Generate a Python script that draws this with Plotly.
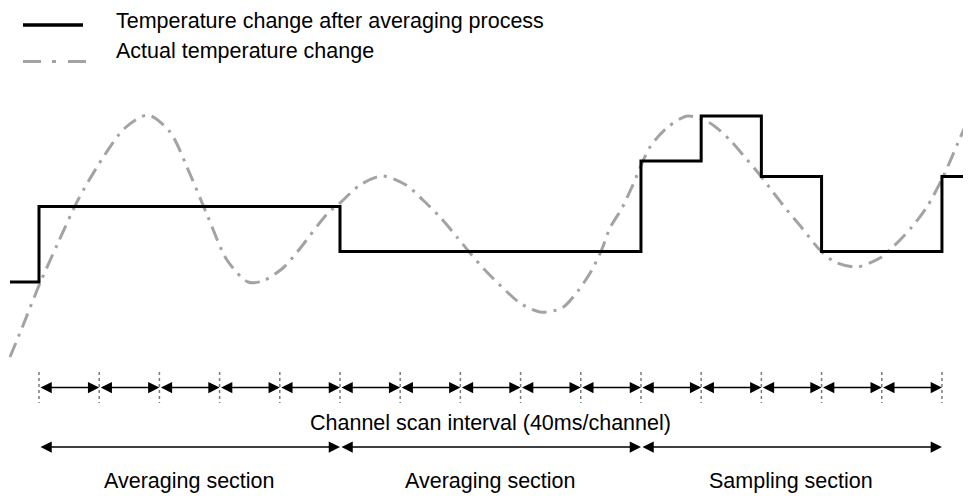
import plotly.graph_objects as go

# time in ms (one channel scanned every 40 ms), temperature in arbitrary units

# channel scan instants
scan_times = [0, 40, 80, 120, 160, 200, 240, 280, 320, 360, 400, 440, 480, 520, 560, 600]

# temperature after averaging (held between updates)
step_time = [-19.3, 0, 200, 400, 440, 480, 520, 600, 619.3]
step_temp = [9, 46.7, 24.2, 69.5, 92, 61.7, 24.2, 61.7, 61.7]

# actual temperature
wave_time = [-19.3, -11.3, 0.7, 12.6, 25.9, 41.9, 57.1, 72.4, 87.0, 100.3, 112.3, 124.9,
             138.9, 148.8, 162.1, 172.1, 192.0, 200.0, 213.3, 227.9, 243.9, 255.1, 266.4,
             277.7, 286.4, 296.3, 307.6, 319.6, 332.9, 347.5, 358.1, 367.4, 374.1, 379.4,
             387.4, 394.0, 406.0, 417.9, 431.2, 445.8, 459.1, 467.8, 479.1, 487.7, 497.0,
             507.0, 518.9, 528.9, 543.5, 558.8, 567.4, 580.0, 590.0, 600.7, 610.6, 619.3]
wave_temp = [-28.5, -14, 8.5, 28.5, 50, 70.5, 86, 92.5, 84, 63, 41.5, 20,
             9, 9.5, 16, 24.5, 43.5, 48.5, 57.5, 62, 57.5, 50, 41.5,
             31.5, 23.5, 15, 6.5, -1.5, -6, -4, 4.5, 15, 25.5, 36,
             46, 56.5, 76.5, 86.5, 92, 88.5, 80, 72.5, 62.5, 54, 45,
             36, 25, 19, 16.5, 21, 26.5, 36.5, 46.5, 61.5, 78.5, 93.5]

section_start = [0, 200, 400]
section_end = [200, 400, 600]
section_labels = ["Averaging section", "Averaging section", "Sampling section"]

legend_labels = ["Temperature change after averaging process", "Actual temperature change"]
scan_label = "Channel scan interval (40ms/channel)"

FONT = "Liberation Sans, Arial, sans-serif"
GRAY = "#a3a3a3"

# the page body keeps its default 8px margin, so the figure is sized to fill the rest
W, H = 963, 490
OFF = 8


def px(x):
    return (x - OFF) / W


def py(y):
    return 1 - (y - OFF) / H


fig = go.Figure()

fig.add_trace(go.Scatter(
    x=wave_time, y=wave_temp, mode="lines",
    line=dict(color=GRAY, width=3, dash="15px,7px,3px,7px", shape="spline", smoothing=0.8),
    hoverinfo="skip",
))
fig.add_trace(go.Scatter(
    x=step_time, y=step_temp, mode="lines",
    line=dict(color="black", width=3, shape="hv"),
    hoverinfo="skip",
))

# dotted markers at each scan instant
for t in scan_times:
    fig.add_shape(type="line", x0=t, x1=t, y0=-36, y1=-51.5,
                  line=dict(color="#7a7a7a", width=1.5, dash="dot"))

annotations = []
# double-headed arrows between scans
for a, b in zip(scan_times[:-1], scan_times[1:]):
    annotations.append(dict(
        x=b, y=-43.75, ax=a, ay=-43.75, xref="x", yref="y", axref="x", ayref="y",
        text="", showarrow=True, arrowside="end+start",
        arrowhead=2, startarrowhead=2, arrowsize=1.5, startarrowsize=1.5,
        arrowwidth=1.5, arrowcolor="black",
    ))

annotations.append(dict(
    x=(scan_times[0] + scan_times[-1]) / 2, y=-61.5, xref="x", yref="y",
    text=scan_label, showarrow=False, xanchor="center", yanchor="middle",
    font=dict(family=FONT, size=21.5, color="black"),
))

for s, e, lab in zip(section_start, section_end, section_labels):
    annotations.append(dict(
        x=e, y=-73.5, ax=s, ay=-73.5, xref="x", yref="y", axref="x", ayref="y",
        text="", showarrow=True, arrowside="end+start",
        arrowhead=2, startarrowhead=2, arrowsize=1.5, startarrowsize=1.5,
        arrowwidth=1.5, arrowcolor="black",
    ))
    annotations.append(dict(
        x=(s + e) / 2, y=-90.5, xref="x", yref="y",
        text=lab, showarrow=False, xanchor="center", yanchor="middle",
        font=dict(family=FONT, size=21.5, color="black"),
    ))

# hand-made legend at top left
fig.add_shape(type="line", xref="paper", yref="paper",
              x0=px(23), x1=px(83), y0=py(25), y1=py(25),
              line=dict(color="black", width=3.5))
fig.add_shape(type="line", xref="paper", yref="paper",
              x0=px(23), x1=px(87), y0=py(61.5), y1=py(61.5),
              line=dict(color=GRAY, width=3, dash="18px,11px,4px,12px"))
for lab, y in zip(legend_labels, [21, 51]):
    annotations.append(dict(
        x=px(114), y=py(y), xref="paper", yref="paper",
        text=lab, showarrow=False, xanchor="left", yanchor="middle",
        font=dict(family=FONT, size=21.5, color="black"),
    ))

fig.update_layout(
    width=W, height=H,
    margin=dict(l=0, r=0, t=0, b=0),
    paper_bgcolor="white", plot_bgcolor="white",
    showlegend=False,
    xaxis=dict(visible=False, range=[-20.6, 619.3]),
    yaxis=dict(visible=False, range=[-99, 146]),
    annotations=annotations,
)

fig.write_html("out.html")
